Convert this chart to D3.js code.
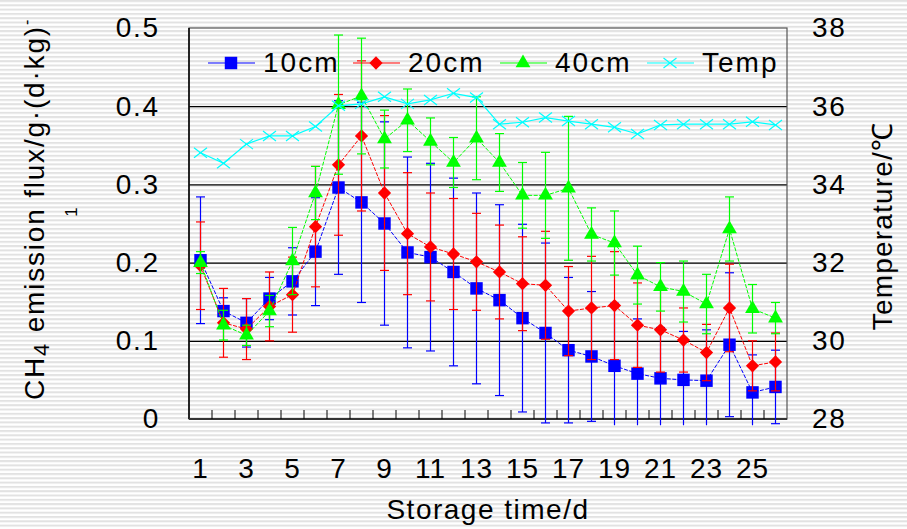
<!DOCTYPE html>
<html>
<head>
<meta charset="utf-8">
<script src="https://d3js.org/d3.v7.min.js"></script>
<style>
    body { margin: 0; background: #fff; }
    text { font-family: "Liberation Sans", Arial, sans-serif; fill: #000; }
</style>
</head>
<body>
<svg id="chart" width="907" height="529"></svg>

<script>
    // storage days
    const days = [1, 2, 3, 4, 5, 6, 7, 8, 9, 10, 11, 12, 13, 14, 15, 16, 17, 18, 19, 20, 21, 22, 23, 24, 25, 26];
    const dayLabels = [1, 3, 5, 7, 9, 11, 13, 15, 17, 19, 21, 23, 25];

    // CH4 flux, means and error bars
    const flux10 = [0.203, 0.138, 0.123, 0.154, 0.176, 0.214, 0.296, 0.277, 0.250, 0.213, 0.207, 0.188, 0.167,
                    0.152, 0.129, 0.110, 0.088, 0.080, 0.068, 0.058, 0.052, 0.050, 0.049, 0.095, 0.034, 0.041];
    const err10  = [0.081, 0.017, 0.031, 0.027, 0.043, 0.069, 0.111, 0.128, 0.130, 0.122, 0.120, 0.120, 0.122,
                    0.122, 0.120, 0.115, 0.093, 0.083, 0.080, 0.070, 0.065, 0.062, 0.065, 0.092, 0.048, 0.047];

    const flux20 = [0.196, 0.123, 0.115, 0.144, 0.159, 0.246, 0.325, 0.362, 0.289, 0.237, 0.220, 0.211, 0.201,
                    0.188, 0.173, 0.171, 0.138, 0.142, 0.145, 0.120, 0.114, 0.101, 0.085, 0.142, 0.068, 0.073];
    const err20  = [0.056, 0.044, 0.039, 0.044, 0.048, 0.077, 0.090, 0.096, 0.099, 0.078, 0.069, 0.071, 0.062,
                    0.060, 0.060, 0.069, 0.057, 0.066, 0.069, 0.054, 0.054, 0.041, 0.036, 0.056, 0.032, 0.037];

    const flux40 = [0.200, 0.120, 0.107, 0.138, 0.202, 0.289, 0.402, 0.413, 0.358, 0.382, 0.355, 0.328, 0.359,
                    0.328, 0.286, 0.286, 0.295, 0.236, 0.225, 0.184, 0.169, 0.163, 0.147, 0.243, 0.141, 0.129];
    const err40  = [0.014, 0.019, 0.013, 0.020, 0.043, 0.034, 0.089, 0.074, 0.037, 0.040, 0.030, 0.032, 0.053,
                    0.037, 0.042, 0.055, 0.092, 0.034, 0.041, 0.037, 0.031, 0.039, 0.038, 0.041, 0.031, 0.020];

    // temperature, right axis
    const temp = [34.81, 34.54, 35.03, 35.24, 35.24, 35.48, 36.01, 36.06, 36.24, 36.06, 36.16, 36.33, 36.22,
                  35.54, 35.59, 35.71, 35.62, 35.54, 35.46, 35.29, 35.52, 35.54, 35.54, 35.54, 35.60, 35.52];

    const fluxTicks = [0, 0.1, 0.2, 0.3, 0.4, 0.5];
    const tempTicks = [28, 30, 32, 34, 36, 38];
    const fluxFloor = -0.008;   // long bars are cut here, no cap

    const W = 907, H = 529;
    const plotL = 189, plotR = 787, plotT = 28, plotB = 419;

    const svg = d3.select("#chart");

    const x = d3.scaleBand().domain(days).range([plotL, plotR]);
    const cx = d => x(d) + x.bandwidth() / 2;
    const y = d3.scaleLinear().domain([0, 0.5]).range([plotB, plotT]);
    const yT = d3.scaleLinear().domain([28, 38]).range([plotB, plotT]);

    // striped background
    const pat = svg.append("defs").append("pattern")
        .attr("id", "stripes")
        .attr("patternUnits", "userSpaceOnUse")
        .attr("width", 10).attr("height", 4.3);
    pat.append("rect").attr("width", 10).attr("height", 4.3).attr("fill", "#fff");
    pat.append("rect").attr("width", 10).attr("height", 2).attr("fill", "#e2e2e2");
    svg.append("rect").attr("width", W).attr("height", H).attr("fill", "url(#stripes)");

    // grid lines
    svg.append("g")
        .attr("transform", `translate(${plotL},0)`)
        .call(d3.axisLeft(y).tickValues([0.1, 0.2, 0.3, 0.4]).tickSize(-(plotR - plotL)).tickFormat(""))
        .call(g => g.select(".domain").remove())
        .selectAll("line").attr("stroke", "#000").attr("stroke-width", 1.2);

    // plot frame
    svg.append("rect")
        .attr("x", plotL).attr("y", plotT)
        .attr("width", plotR - plotL).attr("height", plotB - plotT)
        .attr("fill", "none").attr("stroke", "#555").attr("stroke-width", 1.2);
    svg.append("line").attr("x1", plotL).attr("x2", plotL).attr("y1", plotT).attr("y2", plotB)
        .attr("stroke", "#000").attr("stroke-width", 1.5);
    svg.append("line").attr("x1", plotL).attr("x2", plotR).attr("y1", plotB).attr("y2", plotB)
        .attr("stroke", "#333").attr("stroke-width", 2);

    // ticks between days, pointing up
    svg.append("g").selectAll("line")
        .data(days.slice(1))
        .join("line")
        .attr("x1", d => x(d)).attr("x2", d => x(d))
        .attr("y1", plotB - 9).attr("y2", plotB)
        .attr("stroke", "#000");

    // axis labels
    const tickFont = g => g.selectAll("text")
        .style("font-size", "28px")
        .style("letter-spacing", "1.8px")
        .style("font-family", '"Liberation Sans", Arial, sans-serif')
        .attr("fill", "#000");

    svg.append("g")
        .attr("transform", `translate(${plotL},0)`)
        .call(d3.axisLeft(y).tickValues(fluxTicks).tickSize(0).tickPadding(29)
            .tickFormat(d => d === 0 ? "0" : d3.format(".1f")(d)))
        .call(g => g.select(".domain").remove())
        .call(tickFont);

    svg.append("g")
        .attr("transform", `translate(${plotR},0)`)
        .call(d3.axisRight(yT).tickValues(tempTicks).tickSize(0).tickPadding(25))
        .call(g => g.select(".domain").remove())
        .call(tickFont);

    svg.append("g").selectAll("text")
        .data(dayLabels)
        .join("text")
        .attr("x", d => cx(d))
        .attr("y", 478)
        .attr("text-anchor", "middle")
        .style("font-size", "28px")
        .style("letter-spacing", "1px")
        .text(d => d);

    // axis titles
    svg.append("text")
        .attr("x", 488).attr("y", 519)
        .attr("text-anchor", "middle")
        .style("font-size", "28px")
        .style("letter-spacing", "1.5px")
        .text("Storage time/d");

    const yTitle = svg.append("text")
        .attr("transform", "translate(44,400) rotate(-90)")
        .style("font-size", "28px")
        .style("letter-spacing", "1.8px");
    yTitle.append("tspan").text("CH");
    yTitle.append("tspan").attr("dy", 5).style("font-size", "22px").text("4");
    yTitle.append("tspan").attr("dy", -5).text(" emission flux/g·(d·kg)");
    yTitle.append("tspan").attr("dy", -12).style("font-size", "16px").text("-");
    svg.append("text")
        .attr("transform", "translate(77,212) rotate(-90)")
        .attr("text-anchor", "middle")
        .style("font-size", "17px")
        .text("1");

    svg.append("text")
        .attr("transform", "translate(892,226) rotate(-90)")
        .attr("text-anchor", "middle")
        .style("font-size", "28px")
        .style("letter-spacing", "1.2px")
        .text("Temperature/℃");

    // marker shapes
    const square = d3.symbol().type(d3.symbolSquare).size(155)();
    const diamond = d3.symbol().type(d3.symbolSquare).size(88)();
    const triangle = d3.symbol().type(d3.symbolTriangle).size(95)();
    const cross = "M-6.5,-5L6.5,5M-6.5,5L6.5,-5M-1.5,0L1.5,0";

    const series = [
        { name: "10cm", vals: flux10, errs: err10, color: "#0000ff", shape: square, rot: 0 },
        { name: "20cm", vals: flux20, errs: err20, color: "#ff0000", shape: diamond, rot: 45 },
        { name: "40cm", vals: flux40, errs: err40, color: "#00ff00", shape: triangle, rot: 0 }
    ];

    series.forEach(s => {
        const pts = days.map((d, i) => ({ d: d, v: s.vals[i], e: s.errs[i] }));
        const g = svg.append("g");

        // error bars
        const eb = g.append("g").attr("stroke", s.color).attr("stroke-width", 1.2);
        eb.selectAll(".bar")
            .data(pts).join("line")
            .attr("x1", p => cx(p.d)).attr("x2", p => cx(p.d))
            .attr("y1", p => y(p.v + p.e))
            .attr("y2", p => y(Math.max(p.v - p.e, fluxFloor)));
        eb.selectAll(".capTop")
            .data(pts).join("line")
            .attr("x1", p => cx(p.d) - 4.5).attr("x2", p => cx(p.d) + 4.5)
            .attr("y1", p => y(p.v + p.e)).attr("y2", p => y(p.v + p.e));
        eb.selectAll(".capBot")
            .data(pts.filter(p => p.v - p.e >= fluxFloor)).join("line")
            .attr("x1", p => cx(p.d) - 4.5).attr("x2", p => cx(p.d) + 4.5)
            .attr("y1", p => y(p.v - p.e)).attr("y2", p => y(p.v - p.e));

        g.append("path")
            .datum(pts)
            .attr("fill", "none")
            .attr("stroke", s.color)
            .attr("stroke-width", 1)
            .attr("stroke-dasharray", "4,1.5")
            .attr("d", d3.line().x(p => cx(p.d)).y(p => y(p.v)));

        g.selectAll(".mark")
            .data(pts).join("path")
            .attr("transform", p => `translate(${cx(p.d)},${y(p.v)}) rotate(${s.rot})`)
            .attr("d", s.shape)
            .attr("fill", s.color);
    });

    // temperature series
    const tpts = days.map((d, i) => ({ d: d, v: temp[i] }));
    const tg = svg.append("g");
    tg.append("path")
        .datum(tpts)
        .attr("fill", "none")
        .attr("stroke", "#00ffff")
        .attr("stroke-width", 1.2)
        .attr("d", d3.line().x(p => cx(p.d)).y(p => yT(p.v)));
    tg.selectAll(".mark")
        .data(tpts).join("path")
        .attr("transform", p => `translate(${cx(p.d)},${yT(p.v)})`)
        .attr("d", cross)
        .attr("fill", "none")
        .attr("stroke", "#00ffff")
        .attr("stroke-width", 1.2);

    // legend
    const legendItems = [
        { name: "10cm", color: "#0000ff", shape: square, rot: 0, stroke: false },
        { name: "20cm", color: "#ff0000", shape: diamond, rot: 45, stroke: false },
        { name: "40cm", color: "#00ff00", shape: triangle, rot: 0, stroke: false },
        { name: "Temp", color: "#00ffff", shape: cross, rot: 0, stroke: true }
    ];
    const legendX = [208, 353, 500, 647];
    const legend = svg.append("g").selectAll("g")
        .data(legendItems).join("g")
        .attr("transform", (d, i) => `translate(${legendX[i]},63)`);
    legend.append("line")
        .attr("x1", 0).attr("x2", 47)
        .attr("stroke", d => d.color).attr("stroke-width", 1.2);
    legend.append("path")
        .attr("transform", d => `translate(23,0) rotate(${d.rot})`)
        .attr("d", d => d.shape)
        .attr("fill", d => d.stroke ? "none" : d.color)
        .attr("stroke", d => d.stroke ? d.color : "none")
        .attr("stroke-width", 1.2);
    legend.append("text")
        .attr("x", 55).attr("y", 9)
        .style("font-size", "28px")
        .style("letter-spacing", "2px")
        .text(d => d.name);
</script>
</body>
</html>
